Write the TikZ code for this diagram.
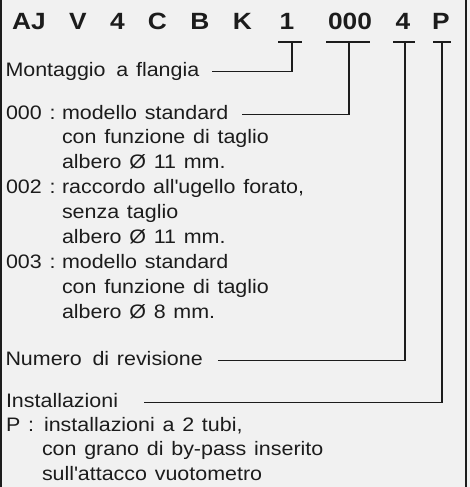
\documentclass[tikz,border=0pt]{standalone}
\usepackage{fontspec}
\setmainfont{Liberation Sans}[FakeStretch=1.1,WordSpace=1.3]
\newfontfamily\headfont{Liberation Sans}[FakeStretch=1.12]
\usetikzlibrary{positioning}
\definecolor{panelgray}{RGB}{241,241,241}
\definecolor{inkdark}{RGB}{28,28,28}
\tikzstyle{every node}+=[inner sep=0pt,outer sep=0pt,text=inkdark]
\tikzstyle{code}=[font=\headfont\bfseries\fontsize{23.5}{28}\selectfont,anchor=base]
\tikzstyle{txt}=[font=\fontsize{19.5}{25}\selectfont,anchor=base west,text height=13pt,text depth=4pt]
\tikzstyle{lead}=[line width=1.8pt,draw=inkdark]
\tikzstyle{frame}=[line width=2.3pt,draw=inkdark]

\begin{document}
\begin{tikzpicture}[x=1pt,y=-1pt]
\fill[panelgray] (0,0) rectangle (470,487);
\useasboundingbox (0,0) rectangle (470,487);
\draw[frame] (1.2,0) -- (1.2,487);
\draw[frame] (466,0) -- (466,487);

% code letters
\node[code] (aj) at (29,30) {AJ};
\node[code] (v) at (78,30) {V};
\node[code] (four) at (117.5,30) {4};
\node[code] (c) at (157.5,30) {C};
\node[code] (b) at (200,30) {B};
\node[code] (k) at (242.5,30) {K};
\node[code] (one) at (287,30) {1};
\node[code] (zeros) at (350,30) {000};
\node[code] (rev) at (403,30) {4};
\node[code] (p) at (441,30) {P};

% bars under the code
\coordinate (t1) at (292,42);
\coordinate (t2) at (349,42);
\coordinate (t3) at (405,42);
\coordinate (t4) at (442,42);
\draw[lead] (278,42) -- (302,42);
\draw[lead] (326,42) -- (370,42);
\draw[lead] (393,42) -- (415,42);
\draw[lead] (433,42) -- (451,42);

% descriptions
\node[txt] (mont) at (5.5,76) {Montaggio\hspace{3pt} a flangia};

\node[txt] (m0) at (6,119) {000 :};
\node[txt] (std) at (62,119) {modello standard};
\node[txt] (std1) at (62,143.9) {con funzione di taglio};
\node[txt] (std2) at (62,168.8) {albero Ø 11 mm.};
\node[txt] (m2) at (6,193.7) {002 :};
\node[txt] (ug) at (62,193.7) {raccordo all\textquotesingle ugello forato,};
\node[txt] (ug1) at (62,218.6) {senza taglio};
\node[txt] (ug2) at (62,243.5) {albero Ø 11 mm.};
\node[txt] (m3) at (6,268.4) {003 :};
\node[txt] (sm) at (62,268.4) {modello standard};
\node[txt] (sm1) at (62,293.3) {con funzione di taglio};
\node[txt] (sm2) at (62,318.2) {albero Ø 8 mm.};

\node[txt] (num) at (5.5,365) {Numero\hspace{3pt} di revisione};

\node[txt] (inst) at (6,407) {Installazioni};
\node[txt] (mp) at (6,431) {P :};
\node[txt] (tub) at (44,431) {installazioni a 2 tubi,};
\node[txt] (tub1) at (42,455.5) {con grano di by-pass inserito};
\node[txt] (tub2) at (42,480) {sull\textquotesingle attacco vuotometro};

% leaders
\draw[lead,shorten <=13pt] (mont.east) -| (t1);
\draw[lead,shorten <=14pt] (std.east) -| (t2);
\draw[lead,shorten <=15pt] (num.east) -| (t3);
\draw[lead,shorten <=26pt] (inst.east) -| (t4);
\end{tikzpicture}
\end{document}
